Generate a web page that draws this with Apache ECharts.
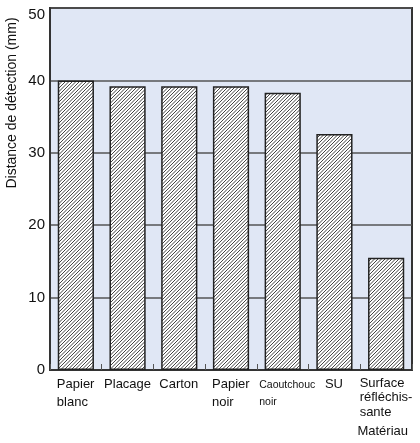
<!DOCTYPE html>
<html><head><meta charset="utf-8">
<script src="https://cdn.jsdelivr.net/npm/echarts@6/dist/echarts.min.js"></script>
<style>html,body{margin:0;padding:0;background:#fff}#c{width:420px;height:443px}</style>
</head><body><div id="c"></div>
<script>
var categories = ['Papier\nblanc','Placage','Carton','Papier\nnoir','Caoutchouc\nnoir','SU','Surface\nréfléchis-\nsante'];
var values = [40, 39.2, 39.2, 39.2, 38.3, 32.6, 15.5];
var yTicks = [0, 10, 20, 30, 40, 50];
var yTitle = 'Distance de détection (mm)';
var xTitle = 'Matériau';

var FONT = '"Liberation Sans", Arial, sans-serif';

// hatch pattern (period 3.5 px, "/" direction)
var T = 7;
var pc = document.createElement('canvas');
pc.width = T; pc.height = T;
var px = pc.getContext('2d');
px.fillStyle = '#fff'; px.fillRect(0,0,T,T);
px.strokeStyle = '#222'; px.lineWidth = 0.85;
px.beginPath();
[-T, -T/2, 0, T/2, T].forEach(function(o){
  px.moveTo(o - 1, T + 1); px.lineTo(o + T + 1, -1);
});
px.stroke();

var mc = document.createElement('canvas').getContext('2d');
function measure(t, size){ mc.font = size + 'px ' + FONT; return Math.ceil(mc.measureText(t).width); }

var rich = {};
categories.forEach(function(c, i){
  var small = c.indexOf('Caoutchouc') === 0;
  var size = small ? 10.5 : 13;
  var lines = c.split('\n');
  var w = Math.max.apply(null, lines.map(function(l){ return measure(l, size); }));
  rich['s' + i] = {
    fontFamily: FONT, fontSize: size, color: '#111',
    width: w, align: 'left',
    lineHeight: lines.length > 2 ? 14.5 : 17.5,
    padding: small ? [0,0,0,10] : 0
  };
});

var chart = echarts.init(document.getElementById('c'));
chart.setOption({
  animation: false,
  grid: { left: 50, right: 8, top: 8, bottom: 73, show: true, backgroundColor: '#e0e7f5', borderColor: '#333', borderWidth: 2 },
  xAxis: {
    type: 'category', data: categories,
    axisLine: { show: true, lineStyle: { color: '#333', width: 2 } },
    axisTick: { show: true, inside: true, length: 6, lineStyle: { color: '#555', width: 1 } },
    axisLabel: {
      margin: 6, interval: 0, align: 'center',
      formatter: function(v){
        var i = categories.indexOf(v);
        return v.split('\n').map(function(l){ return '{s' + i + '|' + l + '}'; }).join('\n');
      },
      rich: rich
    }
  },
  yAxis: {
    type: 'value', min: yTicks[0], max: yTicks[yTicks.length-1], interval: 10,
    axisLine: { show: true, lineStyle: { color: '#333', width: 2 } },
    axisTick: { show: false },
    axisLabel: {
      margin: 5, fontFamily: FONT, fontSize: 15, color: '#111',
      formatter: function(v){ return v === yTicks[yTicks.length-1] ? '{t|' + v + '}' : String(v); },
      rich: { t: { fontFamily: FONT, fontSize: 15, color: '#111', padding: [14, 0, 0, 0] } }
    },
    splitLine: { show: true, lineStyle: { color: '#555', width: 1.5 } }
  },
  series: [{
    type: 'bar', data: values, barWidth: '70%',
    itemStyle: { color: { image: pc, repeat: 'repeat' }, borderColor: '#222', borderWidth: 1.5 }
  }],
  graphic: [
    { type: 'text', x: 12, y: 103, rotation: Math.PI/2,
      style: { text: yTitle, font: '14px ' + FONT, fill: '#111', textAlign: 'center', textVerticalAlign: 'middle' } },
    { type: 'text', right: 12, top: 425,
      style: { text: xTitle, font: '13px ' + FONT, fill: '#111' } }
  ]
});
</script></body></html>
